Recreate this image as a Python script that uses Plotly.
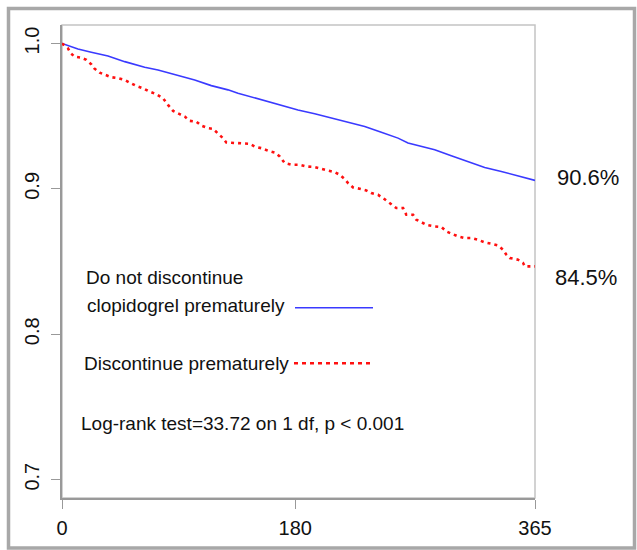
import plotly.graph_objects as go

# Kaplan-Meier style curves (days, survival probability)
t_cont = [0, 12.3, 22.6, 35.5, 48.4, 63.8, 74.1, 89.5, 102.4, 115.2, 128.1, 135.8, 153.8, 166.7,
          182.1, 195.0, 207.8, 220.7, 233.6, 246.4, 259.3, 267.0, 278.6, 287.6, 300.4, 313.3,
          326.2, 339.0, 351.9, 365]
s_cont = [1.0, 0.9962, 0.9940, 0.9914, 0.9875, 0.9837, 0.9818, 0.9779, 0.9749, 0.9710, 0.9681,
          0.9658, 0.9612, 0.9582, 0.9543, 0.9516, 0.9486, 0.9459, 0.9429, 0.9390, 0.9349, 0.9315,
          0.9287, 0.9269, 0.9227, 0.9188, 0.9147, 0.9120, 0.9090, 0.9058]

t_disc = [0, 4.6, 6.7, 9.8, 14.9, 18.8, 22.6, 24.7, 29.1, 33.0, 38.0, 43.2, 48.4, 52.2, 57.3,
          62.5, 66.4, 72.8, 77.9, 81.8, 85.7, 90.8, 94.7, 98.5, 103.6, 107.5, 112.7, 116.5,
          120.4, 124.2, 126.8, 132.0, 138.4, 144.8, 148.7, 153.8, 159.0, 164.1, 168.0, 171.9,
          177.0, 183.4, 188.6, 195.0, 200.1, 205.3, 210.4, 214.3, 218.2, 220.7, 224.6, 229.7,
          234.8, 238.7, 243.9, 247.7, 252.9, 258.0, 263.2, 265.7, 270.9, 273.4, 277.3, 281.2,
          287.6, 292.7, 296.6, 300.4, 305.6, 310.8, 315.9, 321.0, 326.2, 331.3, 336.5, 340.3,
          342.9, 345.5, 351.9, 355.8, 357.1, 365]
s_disc = [1.0, 0.9967, 0.9933, 0.9909, 0.9902, 0.9887, 0.9857, 0.9830, 0.9799, 0.9784, 0.9768,
          0.9761, 0.9749, 0.9731, 0.9708, 0.9692, 0.9674, 0.9651, 0.9624, 0.9578, 0.9536, 0.9514,
          0.9497, 0.9468, 0.9463, 0.9435, 0.9418, 0.9413, 0.9383, 0.9349, 0.9319, 0.9315, 0.9315,
          0.9310, 0.9291, 0.9280, 0.9262, 0.9250, 0.9223, 0.9177, 0.9166, 0.9166, 0.9154, 0.9150,
          0.9138, 0.9124, 0.9115, 0.9097, 0.9067, 0.9040, 0.9010, 0.9001, 0.8989, 0.8971, 0.8959,
          0.8937, 0.8902, 0.8868, 0.8868, 0.8822, 0.8822, 0.8788, 0.8771, 0.8753, 0.8742, 0.8738,
          0.8707, 0.8692, 0.8673, 0.8662, 0.8662, 0.8650, 0.8632, 0.8623, 0.8611, 0.8582, 0.8547,
          0.8525, 0.8513, 0.8490, 0.8467, 0.8467]

x_ticks = [0, 180, 365]
y_ticks = [0.7, 0.8, 0.9, 1.0]
y_tick_labels = ["0.7", "0.8", "0.9", "1.0"]

label_cont = ["Do not discontinue", "clopidogrel prematurely"]
label_disc = "Discontinue prematurely"
test_text = "Log-rank test=33.72 on 1 df, p < 0.001"
end_labels = ["90.6%", "84.5%"]

BLUE = "#3a3aff"
RED = "#ff1010"
FONT = "Liberation Sans, Arial, sans-serif"

fig = go.Figure()
fig.add_trace(go.Scatter(x=t_cont, y=s_cont, mode="lines",
                         line=dict(color=BLUE, width=1.6), showlegend=False, hoverinfo="skip"))
fig.add_trace(go.Scatter(x=t_disc, y=s_disc, mode="lines",
                         line=dict(color=RED, width=2.6, dash="3px,4px"), showlegend=False,
                         hoverinfo="skip"))

W, H = 637, 550
L, R, T, B = 62, 535, 25, 498
pw = R - L
ph = B - T


def px(xp):
    return (xp - L) / pw


def py(yp):
    return (B - yp) / ph


shapes = [
    # outer frame
    dict(type="rect", xref="paper", yref="paper", x0=px(8.5), x1=px(634.5), y0=py(548), y1=py(8.5),
         line=dict(color="#a8a8a8", width=3.5), layer="below"),
    # inner box
    dict(type="rect", xref="paper", yref="paper", x0=0, x1=1, y0=0, y1=1,
         line=dict(color="#c4c4c4", width=1.5), layer="below"),
    # legend keys
    dict(type="line", xref="paper", yref="paper", x0=px(295), x1=px(373), y0=py(307.7), y1=py(307.7),
         line=dict(color=BLUE, width=1.6)),
    dict(type="line", xref="paper", yref="paper", x0=px(294), x1=px(373), y0=py(363.3), y1=py(363.3),
         line=dict(color=RED, width=2.6, dash="4px,4px")),
]

ann_font = dict(family=FONT, size=19, color="#111111")
annotations = [
    dict(text=label_cont[0], x=px(84), y=py(277), xref="paper", yref="paper",
         xanchor="left", yanchor="middle", showarrow=False, font=ann_font),
    dict(text=label_cont[1], x=px(85), y=py(305), xref="paper", yref="paper",
         xanchor="left", yanchor="middle", showarrow=False, font=ann_font),
    dict(text=label_disc, x=px(82), y=py(363), xref="paper", yref="paper",
         xanchor="left", yanchor="middle", showarrow=False, font=ann_font),
    dict(text=test_text, x=px(79), y=py(423), xref="paper", yref="paper",
         xanchor="left", yanchor="middle", showarrow=False, font=ann_font),
    dict(text=end_labels[0], x=px(555), y=py(177), xref="paper", yref="paper",
         xanchor="left", yanchor="middle", showarrow=False,
         font=dict(family=FONT, size=22, color="#111111")),
    dict(text=end_labels[1], x=px(553), y=py(277), xref="paper", yref="paper",
         xanchor="left", yanchor="middle", showarrow=False,
         font=dict(family=FONT, size=22, color="#111111")),
]

fig.update_layout(
    width=W, height=H,
    margin=dict(l=L, r=W - R, t=T, b=H - B, pad=0),
    paper_bgcolor="white", plot_bgcolor="white",
    shapes=shapes, annotations=annotations,
    showlegend=False,
    xaxis=dict(range=[0, 365], tickvals=x_ticks, ticktext=[str(v) for v in x_ticks],
               showgrid=False, zeroline=False, showline=True, linecolor="#999999", linewidth=1.5,
               ticks="outside", ticklen=9, tickwidth=1.2, tickcolor="#999999",
               tickfont=dict(family=FONT, size=20, color="#111111"), ticklabelstandoff=2,
               fixedrange=True),
    yaxis=dict(range=[0.6874, 1.0127], tickvals=y_ticks, ticktext=y_tick_labels,
               showgrid=False, zeroline=False, showline=True, linecolor="#999999", linewidth=1.5,
               ticks="outside", ticklen=9, tickwidth=1.2, tickcolor="#999999", tickangle=-90,
               tickfont=dict(family=FONT, size=20, color="#111111"), ticklabelstandoff=4,
               fixedrange=True),
)

fig.write_html("out.html", config={"displayModeBar": False},
               post_script="document.body.style.margin='0px';")
